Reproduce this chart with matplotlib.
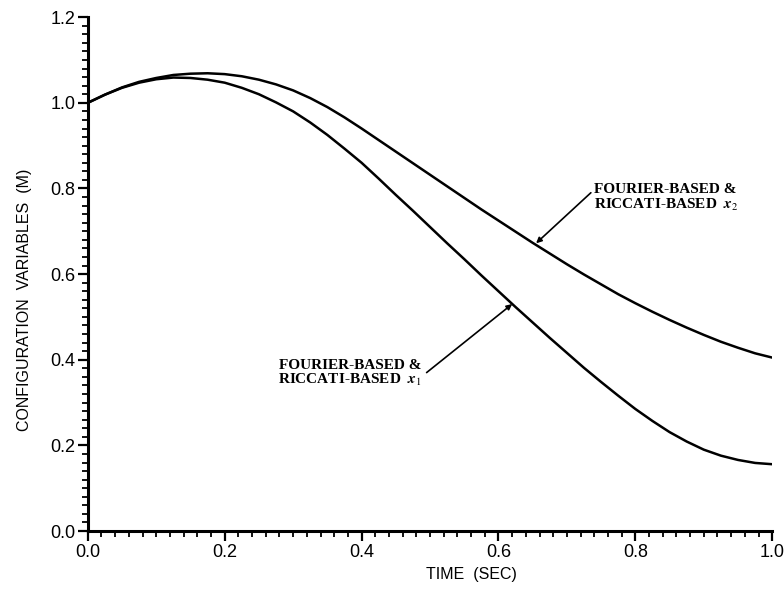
import numpy as np
import matplotlib
matplotlib.use('Agg')
import matplotlib.pyplot as plt
from matplotlib.ticker import MultipleLocator, FormatStrFormatter

plt.rcParams['font.family'] = ['Liberation Sans', 'DejaVu Sans']
plt.rcParams['mathtext.fontset'] = 'stix'

# time (sec) and the two configuration variables (m)
t = [0.0, 0.025, 0.05, 0.075, 0.1, 0.125, 0.15, 0.175, 0.2, 0.225, 0.25,
     0.275, 0.3, 0.325, 0.35, 0.375, 0.4, 0.425, 0.45, 0.475, 0.5,
     0.525, 0.55, 0.575, 0.6, 0.625, 0.65, 0.675, 0.7, 0.725, 0.75,
     0.775, 0.8, 0.825, 0.85, 0.875, 0.9, 0.925, 0.95, 0.975, 1.0]
x1 = [1.000, 1.019, 1.035, 1.047, 1.055, 1.059, 1.058, 1.054, 1.047, 1.035, 1.020,
      1.001, 0.980, 0.954, 0.925, 0.893, 0.860, 0.823, 0.785, 0.748, 0.710,
      0.672, 0.635, 0.597, 0.560, 0.523, 0.487, 0.451, 0.416, 0.381, 0.348,
      0.316, 0.285, 0.257, 0.231, 0.209, 0.190, 0.176, 0.166, 0.159, 0.156]
x2 = [1.000, 1.019, 1.036, 1.049, 1.058, 1.065, 1.068, 1.069, 1.067, 1.062, 1.054,
      1.043, 1.029, 1.011, 0.990, 0.966, 0.940, 0.913, 0.886, 0.859, 0.832,
      0.805, 0.778, 0.751, 0.725, 0.699, 0.673, 0.648, 0.623, 0.599, 0.576,
      0.553, 0.532, 0.512, 0.493, 0.475, 0.458, 0.442, 0.428, 0.415, 0.405]

label_x1 = 'FOURIER-BASED &\nRICCATI-BASED  $\\mathbfit{x}_1$'
label_x2 = 'FOURIER-BASED &\nRICCATI-BASED  $\\mathbfit{x}_2$'

fig = plt.figure(figsize=(7.84, 5.92), dpi=100)
ax = fig.add_axes([0.112, 0.103, 0.873, 0.868])

ax.plot(t, x1, color='black', lw=1.8)
ax.plot(t, x2, color='black', lw=1.8)

ax.set_xlim(0, 1.0)
ax.set_ylim(0, 1.2)
ax.xaxis.set_major_locator(MultipleLocator(0.2))
ax.xaxis.set_minor_locator(MultipleLocator(0.02))
ax.yaxis.set_major_locator(MultipleLocator(0.2))
ax.yaxis.set_minor_locator(MultipleLocator(0.02))
ax.xaxis.set_major_formatter(FormatStrFormatter('%.1f'))
ax.yaxis.set_major_formatter(FormatStrFormatter('%.1f'))

for s in ['top', 'right']:
    ax.spines[s].set_visible(False)
for s in ['left', 'bottom']:
    ax.spines[s].set_linewidth(2.2)

ax.tick_params(which='major', direction='out', length=7, width=1.6, labelsize=13, pad=2)
ax.tick_params(which='minor', direction='out', length=4.5, width=1.3)

ax.set_xlabel('TIME  (SEC)', fontsize=11.5)
ax.xaxis.set_label_coords(0.56, -0.07)
ax.set_ylabel('CONFIGURATION  VARIABLES  (M)', fontsize=11.5)
ax.yaxis.set_label_coords(-0.082, 0.45)

arrow = dict(arrowstyle='-|>', color='black', lw=1.2, mutation_scale=8, shrinkA=0, shrinkB=0)
ax.annotate('', xy=(0.655, 0.672), xytext=(0.735, 0.79), arrowprops=arrow)
ax.annotate('', xy=(0.62, 0.53), xytext=(0.495, 0.37), arrowprops=arrow)

ax.text(0.74, 0.777, label_x2, family='Liberation Serif', fontsize=11, weight='bold',
        va='center', ha='left', linespacing=1.05)
ax.text(0.488, 0.368, label_x1, family='Liberation Serif', fontsize=11, weight='bold',
        va='center', ha='right', linespacing=1.05)

fig.savefig('out.png', dpi=100)
